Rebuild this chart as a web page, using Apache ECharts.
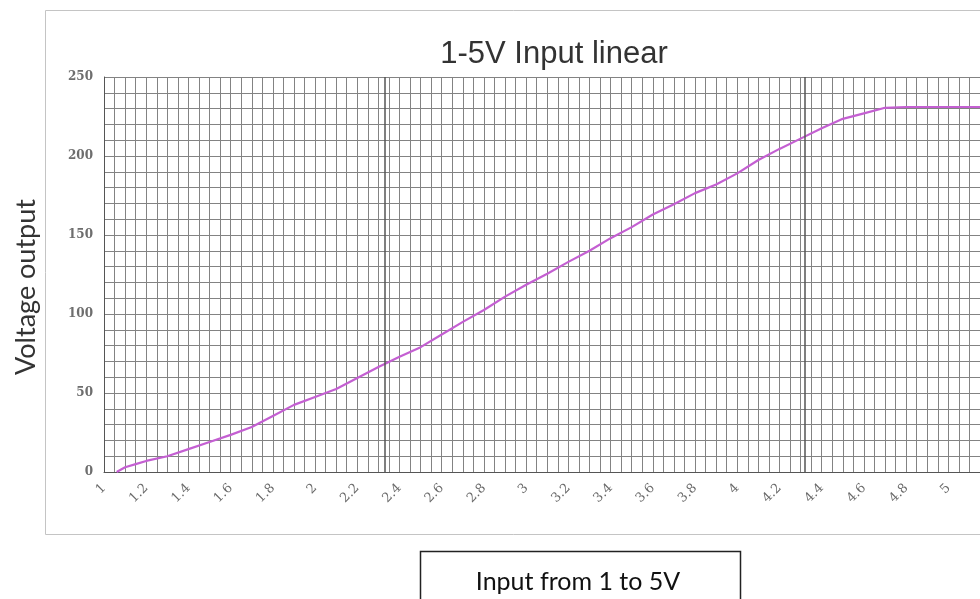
<!DOCTYPE html>
<html>
<head>
<meta charset="utf-8">
<script src="https://cdn.jsdelivr.net/npm/echarts@6/dist/echarts.min.js"></script>
<style>
  html, body { margin: 0; padding: 0; background: #fff; }
  #main { width: 980px; height: 599px; }
</style>
</head>
<body>
<div id="main"></div>
<script>
// input voltage (V) and output
var inputV = [1.06, 1.1, 1.15, 1.2, 1.3, 1.4, 1.5, 1.6, 1.7, 1.8, 1.9, 2.0, 2.1, 2.2, 2.3, 2.4, 2.5,
  2.6, 2.7, 2.8, 2.9, 3.0, 3.1, 3.2, 3.3, 3.4, 3.5, 3.6, 3.7, 3.8, 3.9, 4.0, 4.1, 4.2, 4.3, 4.4,
  4.5, 4.6, 4.7, 4.8, 4.9, 5.0, 5.15];
var outputV = [0, 3, 5, 7, 10, 14.5, 19, 23.5, 28.5, 35.5, 42.5, 47.5, 52.5, 59.5, 66.5, 73, 79,
  87, 95, 102.5, 111, 118.5, 125.5, 133, 140, 148, 155, 163, 169.5, 176.5, 182, 189, 197.5, 204.5, 211, 217.5,
  223.5, 227, 230.5, 231, 231, 231, 231];
// the two darker rules printed on the paper
var darkRules = [2.325, 4.316];

var xMin = 1, xMax = 5.15, yMin = 0, yMax = 250;

var points = inputV.map(function (v, i) { return [v, outputV[i]]; });

var chart = echarts.init(document.getElementById('main'));
chart.setOption({
  animation: false,
  backgroundColor: '#fff',
  title: {
    text: '1-5V Input linear',
    left: 549,
    top: 34,
    textAlign: 'center',
    textStyle: { fontFamily: 'Liberation Sans', fontSize: 31, fontWeight: 'normal', color: '#333' }
  },
  grid: { left: 104, top: 77, width: 880, height: 395 },
  xAxis: {
    type: 'value',
    min: xMin,
    max: xMax,
    interval: 0.05,
    axisLine: { show: true, lineStyle: { color: '#555', width: 1 } },
    axisTick: { show: false },
    axisLabel: {
      rotate: 45,
      margin: 14,
      fontFamily: 'DejaVu Serif',
      fontSize: 13,
      color: '#6a6a6a',
      showMaxLabel: false,
      formatter: function (v) {
        var k = v * 5;
        if (Math.abs(k - Math.round(k)) > 1e-6) return '';
        return String(Number(v.toFixed(1)));
      }
    },
    splitLine: { show: true, lineStyle: { color: '#838383', width: 1 } }
  },
  yAxis: {
    type: 'value',
    min: yMin,
    max: yMax,
    interval: 10,
    axisLine: { show: true, lineStyle: { color: '#555', width: 1 } },
    axisTick: { show: false },
    axisLabel: {
      margin: 11,
      fontFamily: 'DejaVu Serif',
      fontSize: 12,
      fontWeight: 'bold',
      color: '#6e6e6e',
      formatter: function (v) { return v % 50 === 0 ? String(v) : ''; }
    },
    splitLine: { show: true, lineStyle: { color: '#838383', width: 1 } }
  },
  series: [{
    type: 'line',
    data: points,
    showSymbol: false,
    smooth: false,
    lineStyle: { color: '#c45fd2', width: 2.2 },
    markLine: {
      silent: true,
      symbol: 'none',
      label: { show: false },
      lineStyle: { color: '#555', width: 1.5, type: 'solid' },
      data: darkRules.map(function (v) { return { xAxis: v }; })
    }
  }],
  graphic: [
    {
      type: 'rect',
      shape: { x: 45.5, y: 10.5, width: 960, height: 524 },
      style: { fill: 'none', stroke: '#c4c4c4', lineWidth: 1 },
      silent: true
    },
    {
      type: 'text',
      x: 26,
      y: 287,
      rotation: Math.PI / 2,
      style: {
        text: 'Voltage output',
        fontFamily: 'Lato',
        fontSize: 27,
        fill: '#333',
        textAlign: 'center',
        textVerticalAlign: 'middle'
      },
      silent: true
    },
    {
      type: 'rect',
      shape: { x: 420.5, y: 551.5, width: 320, height: 70 },
      style: { fill: '#fff', stroke: '#222', lineWidth: 1.5 },
      silent: true
    },
    {
      type: 'text',
      x: 578,
      y: 582,
      style: {
        text: 'Input from 1 to 5V',
        fontFamily: 'Lato',
        fontSize: 25,
        fill: '#111',
        textAlign: 'center',
        textVerticalAlign: 'middle'
      },
      silent: true
    }
  ]
});
</script>
</body>
</html>
